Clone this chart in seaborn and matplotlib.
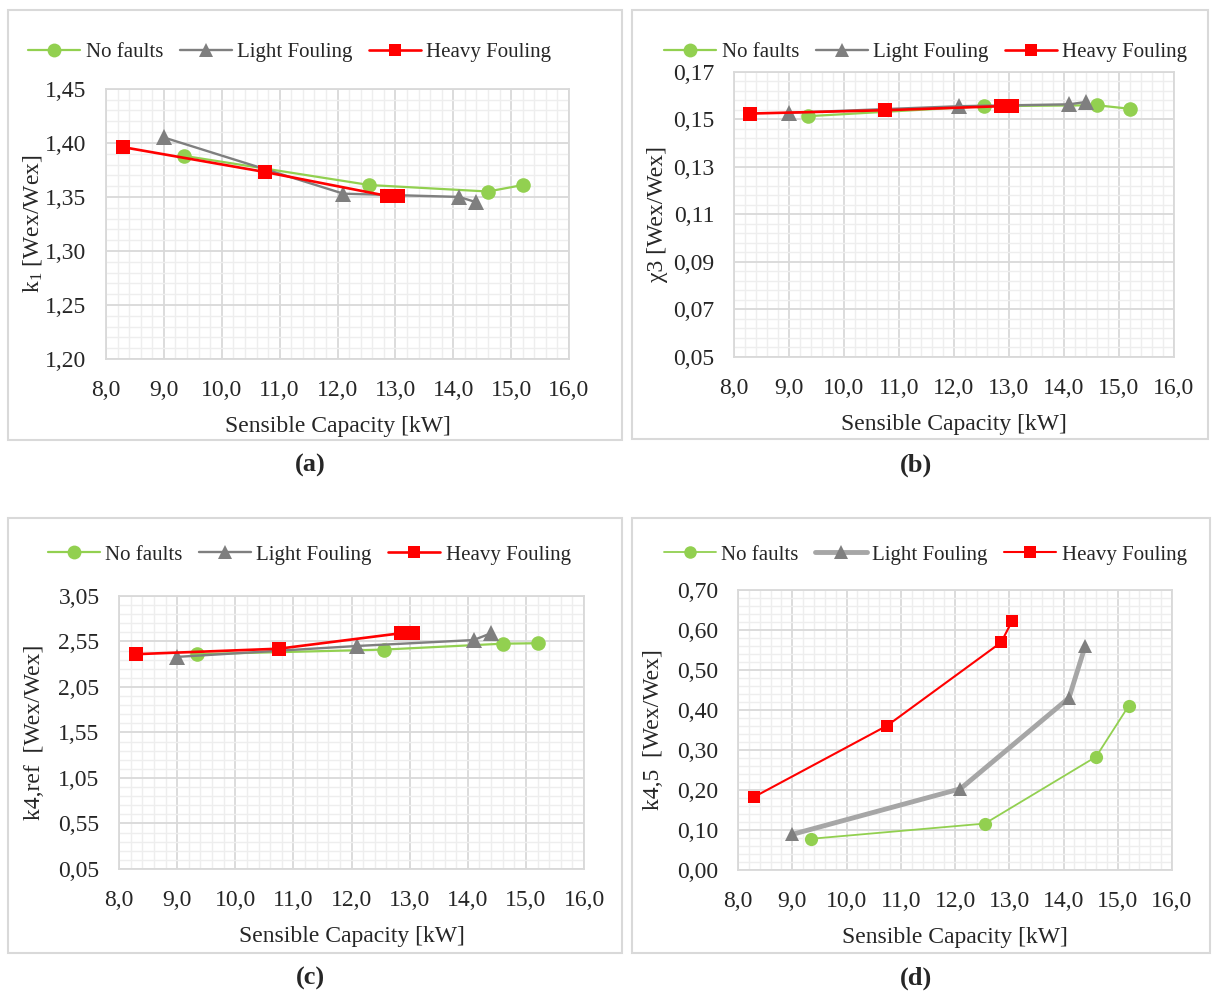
import numpy as np
import pandas as pd
import matplotlib
matplotlib.use("Agg")
import matplotlib.pyplot as plt
from matplotlib.ticker import MultipleLocator, FuncFormatter
from matplotlib.patches import Rectangle
import seaborn as sns

# sensible capacity [kW]
x_nofault = [9.35, 12.55, 14.6, 15.2]
x_light = [9.0, 12.1, 14.1, 14.4]
x_heavy = [8.3, 10.75, 12.85, 13.05]

# (a) k1
k1_nofault = [1.388, 1.361, 1.355, 1.361]
k1_light = [1.405, 1.353, 1.350, 1.345]
k1_heavy = [1.396, 1.373, 1.351, 1.351]

# (b) chi3
chi3_nofault = [0.1514, 0.1556, 0.1560, 0.1545]
chi3_light = [0.1528, 0.1556, 0.1564, 0.1574]
chi3_heavy = [0.1525, 0.1539, 0.1556, 0.1556]

# (c) k4,ref
k4ref_nofault = [2.41, 2.46, 2.525, 2.53]
k4ref_light = [2.38, 2.50, 2.565, 2.64]
k4ref_heavy = [2.41, 2.47, 2.64, 2.64]

# (d) k4,5
k45_nofault = [0.078, 0.116, 0.283, 0.41]
k45_light = [0.089, 0.203, 0.43, 0.56]
k45_heavy = [0.183, 0.361, 0.569, 0.622]

series_names = ["No faults", "Light Fouling", "Heavy Fouling"]

sns.set_style("white")
plt.rcParams["font.family"] = ["Liberation Serif", "DejaVu Serif"]
plt.rcParams["mathtext.fontset"] = "custom"
plt.rcParams["mathtext.rm"] = "Liberation Serif"
plt.rcParams["mathtext.it"] = "Liberation Serif:italic"

GREEN = "#92d050"
GRAY = "#7f7f7f"
RED = "#ff0000"

fig = plt.figure(figsize=(12.12, 9.93), dpi=100)

# panel frames (Excel chart areas)
for (x0, y0, x1, y1) in [(8, 10, 622, 440), (632, 10, 1208, 439),
                         (8, 518, 622, 953), (632, 518, 1210, 953)]:
    fig.patches.append(Rectangle((x0 / 1212, 1 - y1 / 993), (x1 - x0) / 1212, (y1 - y0) / 993,
                                 transform=fig.transFigure, fill=False,
                                 edgecolor="#d9d9d9", lw=1.5))

panels = [
    dict(rect=[0.0875, 0.6385, 0.382, 0.272], y=[k1_nofault, k1_light, k1_heavy],
         ylim=(1.20, 1.45), ystep=0.05, yoff=0.0, yminor=0.01, yminoff=0.0,
         ylabel=r"k$_\mathrm{1}$ [Wex/Wex]",
         leg=(0.397, 1.135), lab=(0.256, 465), ms=10.5, lw=[1.6, 1.7, 1.9], lcol=GRAY, lx=-0.135),
    dict(rect=[0.6056, 0.6405, 0.363, 0.287], y=[chi3_nofault, chi3_light, chi3_heavy],
         ylim=(0.05, 0.17), ystep=0.02, yoff=0.01, yminor=0.004, yminoff=0.002,
         ylabel="\u03c73 [Wex/Wex]",
         leg=(0.436, 1.07), lab=(0.756, 465), ms=10.5, lw=[1.6, 1.7, 1.9], lcol=GRAY, lx=-0.15),
    dict(rect=[0.0982, 0.1249, 0.3837, 0.275], y=[k4ref_nofault, k4ref_light, k4ref_heavy],
         ylim=(0.05, 3.05), ystep=0.5, yoff=0.05, yminor=0.1, yminoff=0.05,
         ylabel="k4,ref  [Wex/Wex]",
         leg=(0.409, 1.15), lab=(0.256, 978), ms=10.5, lw=[1.6, 1.7, 1.9], lcol=GRAY, lx=-0.16),
    dict(rect=[0.609, 0.1239, 0.358, 0.282], y=[k45_nofault, k45_light, k45_heavy],
         ylim=(0.0, 0.70), ystep=0.1, yoff=0.0, yminor=0.02, yminoff=0.0,
         ylabel="k4,5  [Wex/Wex]",
         leg=(0.431, 1.125), lab=(0.756, 978), ms=9.5, lw=[1.3, 3.5, 1.5], lcol="#a6a6a6", lx=-0.17),
]

letters = ["(a)", "(b)", "(c)", "(d)"]

for p, letter in zip(panels, letters):
    ax = fig.add_axes(p["rect"])
    xs = [x_nofault, x_light, x_heavy]
    markers = ["o", "^", "s"]
    lcols = [GREEN, p["lcol"], RED]
    mcols = [GREEN, GRAY, RED]
    msizes = [p["ms"], p["ms"] * 1.05, p["ms"] * 0.9]
    for xv, yv, name, mk, lc, mc, lw, ms in zip(xs, p["y"], series_names, markers,
                                                lcols, mcols, p["lw"], msizes):
        df = pd.DataFrame({"x": xv, "y": yv})
        sns.lineplot(data=df, x="x", y="y", ax=ax, sort=False, color=lc, lw=lw,
                     marker=mk, markersize=ms, markerfacecolor=mc,
                     markeredgecolor=mc, markeredgewidth=0, label=name)

    ax.set_xlim(8.0, 16.0)
    ax.set_ylim(*p["ylim"])
    ax.xaxis.set_major_locator(MultipleLocator(1.0))
    ax.xaxis.set_minor_locator(MultipleLocator(0.2))
    ax.yaxis.set_major_locator(MultipleLocator(p["ystep"], offset=p["yoff"]))
    ax.yaxis.set_minor_locator(MultipleLocator(p["yminor"], offset=p["yminoff"]))
    ax.xaxis.set_major_formatter(FuncFormatter(lambda v, pos: f"{v:.1f}".replace(".", ",")))
    ax.yaxis.set_major_formatter(FuncFormatter(lambda v, pos: f"{v:.2f}".replace(".", ",")))
    ax.set_axisbelow(True)
    ax.grid(which="major", color="#d9d9d9", lw=1.3)
    ax.grid(which="minor", color="#eeeeee", lw=1.0)
    for s in ax.spines.values():
        s.set_color("#d9d9d9")
        s.set_linewidth(1.3)
    ax.tick_params(which="both", length=0)
    ax.tick_params(axis="y", pad=14, labelsize=17)
    ax.tick_params(axis="x", pad=15, labelsize=17)
    ax.set_xlabel("Sensible Capacity [kW]", fontsize=17, labelpad=11)
    ax.set_ylabel(p["ylabel"], fontsize=17)
    ax.yaxis.set_label_coords(p["lx"], 0.5)

    ax.legend(loc="center", bbox_to_anchor=p["leg"], ncol=3, frameon=False,
              fontsize=15, handlelength=2.5, handletextpad=0.25,
              columnspacing=0.8, markerscale=0.95, borderaxespad=0)

    fig.text(p["lab"][0], 1 - p["lab"][1] / 993, letter, ha="center", va="center",
             fontsize=19, fontweight="bold")

fig.savefig("out.png", dpi=100)
